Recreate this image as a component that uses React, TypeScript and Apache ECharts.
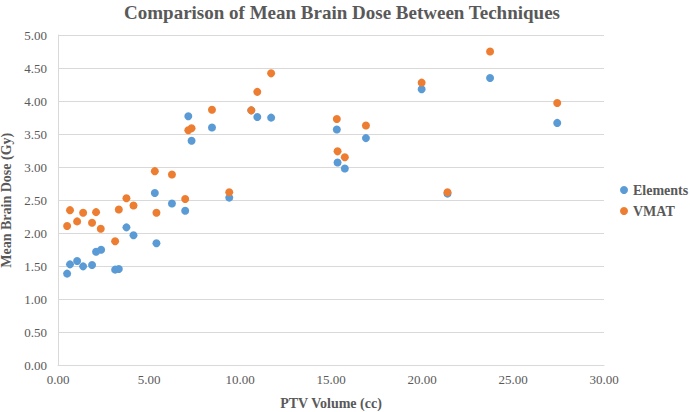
import React, { useEffect, useRef } from "react";
import * as echarts from "echarts";

const elementsX = [0.5, 0.66, 1.05, 1.38, 1.87, 2.09, 2.37, 3.14, 3.34, 3.76, 4.15, 5.32, 5.41, 6.26, 6.99, 7.16, 7.34, 8.46, 9.41, 10.62, 10.95, 11.71, 15.32, 15.36, 15.76, 16.92, 19.98, 21.4, 23.74, 27.43];
const elementsY = [1.39, 1.53, 1.58, 1.5, 1.52, 1.72, 1.75, 1.45, 1.46, 2.09, 1.97, 2.61, 1.85, 2.45, 2.34, 3.77, 3.4, 3.6, 2.54, 3.86, 3.76, 3.75, 3.57, 3.07, 2.98, 3.44, 4.18, 2.6, 4.35, 3.67];
const vmatX = [0.5, 0.66, 1.05, 1.38, 1.87, 2.09, 2.35, 3.14, 3.34, 3.76, 4.15, 5.32, 5.41, 6.26, 6.99, 7.16, 7.34, 8.46, 9.41, 10.62, 10.95, 11.71, 15.32, 15.36, 15.76, 16.92, 19.98, 21.4, 23.74, 27.43];
const vmatY = [2.11, 2.35, 2.18, 2.31, 2.16, 2.32, 2.07, 1.88, 2.36, 2.53, 2.42, 2.94, 2.31, 2.89, 2.52, 3.56, 3.59, 3.87, 2.62, 3.86, 4.14, 4.42, 3.73, 3.24, 3.15, 3.63, 4.28, 2.62, 4.75, 3.97];

const serif = "'Liberation Serif', 'Times New Roman', serif";

export default function App() {
  const ref = useRef<HTMLDivElement>(null);
  useEffect(() => {
    if (!ref.current) return;
    const chart = echarts.init(ref.current, undefined, { renderer: "svg" });
    chart.setOption({
      animation: false,
      backgroundColor: "#ffffff",
      title: {
        text: "Comparison of Mean Brain Dose Between Techniques",
        left: 337,
        textAlign: "center",
        top: -2,
        textStyle: { fontFamily: serif, fontWeight: "bold", fontSize: 19, color: "#595959" },
      },
      grid: { left: 58, right: 86, top: 35, bottom: 46.5, outerBoundsMode: "none", containLabel: false },
      legend: {
        orient: "vertical",
        left: 615,
        top: 178,
        itemGap: 7,
        icon: "circle",
        itemWidth: 8,
        itemHeight: 8,
        textStyle: { fontFamily: serif, fontWeight: "bold", fontSize: 14, color: "#595959" },
        data: ["Elements", "VMAT"],
      },
      xAxis: {
        type: "value",
        min: 0,
        max: 30,
        interval: 5,
        name: "PTV Volume (cc)",
        nameLocation: "middle",
        nameGap: 31,
        nameTextStyle: { fontFamily: serif, fontWeight: "bold", fontSize: 14, color: "#595959" },
        axisLine: { show: true, lineStyle: { color: "#d9d9d9" } },
        axisTick: { show: false },
        splitLine: { show: false },
        axisLabel: { fontFamily: serif, fontSize: 13, color: "#595959", margin: 7, formatter: (v: number) => v.toFixed(2) },
      },
      yAxis: {
        type: "value",
        min: 0,
        max: 5,
        interval: 0.5,
        name: "Mean Brain Dose (Gy)",
        nameLocation: "middle",
        nameGap: 39,
        nameTextStyle: { fontFamily: serif, fontWeight: "bold", fontSize: 14, color: "#595959" },
        axisLine: { show: true, lineStyle: { color: "#d9d9d9" } },
        axisTick: { show: false },
        splitLine: { show: true, lineStyle: { color: "#d9d9d9" } },
        axisLabel: { fontFamily: serif, fontSize: 13, color: "#595959", margin: 11, formatter: (v: number) => v.toFixed(2) },
      },
      series: [
        {
          name: "Elements",
          type: "scatter",
          symbolSize: 8,
          itemStyle: { color: "#5B9BD5", opacity: 1 },
          data: elementsX.map((x, i) => [x, elementsY[i]]),
        },
        {
          name: "VMAT",
          type: "scatter",
          symbolSize: 8,
          itemStyle: { color: "#ED7D31", opacity: 1 },
          data: vmatX.map((x, i) => [x, vmatY[i]]),
        },
      ],
    });
    return () => chart.dispose();
  }, []);
  return <div ref={ref} style={{ width: 690, height: 412, position: "absolute", left: 0, top: 0 }} />;
}
